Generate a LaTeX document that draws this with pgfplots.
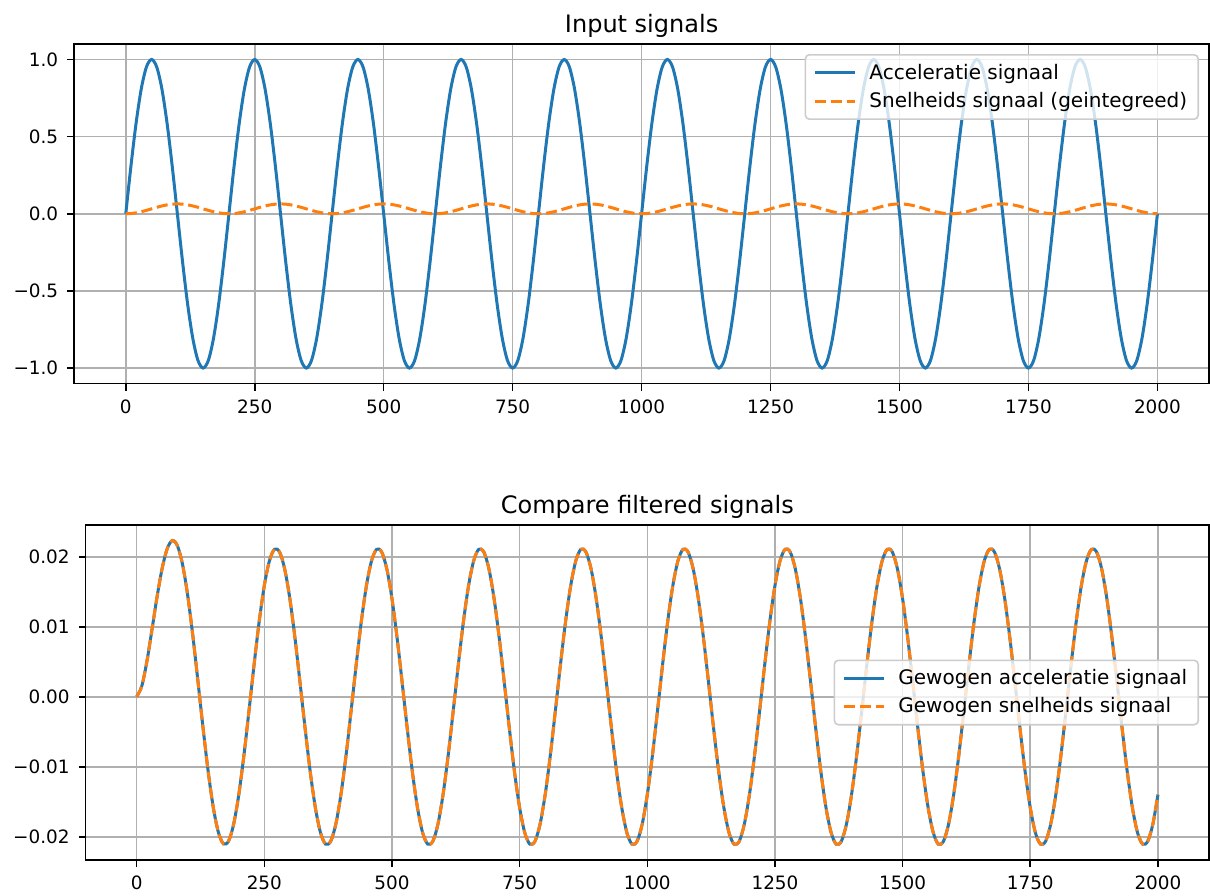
\documentclass[border=0pt]{standalone}
\usepackage{fontspec}
\setmainfont{DejaVu Sans}
\usepackage{pgfplots}
\usepackage{pgfplotstable}
\pgfplotsset{compat=1.18}
\definecolor{C0}{HTML}{1F77B4}
\definecolor{C1}{HTML}{FF7F0E}
\definecolor{gridgray}{HTML}{B0B0B0}

\pgfplotstableread{
x a v
0 0 0
10 0.30902 0.001558
20 0.58779 0.006079
30 0.80902 0.013121
40 0.95106 0.021994
50 1 0.031830
60 0.95106 0.041666
70 0.80902 0.050539
80 0.58779 0.057581
90 0.30902 0.062102
100 0 0.063660
110 -0.30902 0.062102
120 -0.58779 0.057581
130 -0.80902 0.050539
140 -0.95106 0.041666
150 -1 0.031830
160 -0.95106 0.021994
170 -0.80902 0.013121
180 -0.58779 0.006079
190 -0.30902 0.001558
200 0 0
210 0.30902 0.001558
220 0.58779 0.006079
230 0.80902 0.013121
240 0.95106 0.021994
250 1 0.031830
260 0.95106 0.041666
270 0.80902 0.050539
280 0.58779 0.057581
290 0.30902 0.062102
300 0 0.063660
310 -0.30902 0.062102
320 -0.58779 0.057581
330 -0.80902 0.050539
340 -0.95106 0.041666
350 -1 0.031830
360 -0.95106 0.021994
370 -0.80902 0.013121
380 -0.58779 0.006079
390 -0.30902 0.001558
400 0 0
410 0.30902 0.001558
420 0.58779 0.006079
430 0.80902 0.013121
440 0.95106 0.021994
450 1 0.031830
460 0.95106 0.041666
470 0.80902 0.050539
480 0.58779 0.057581
490 0.30902 0.062102
500 0 0.063660
510 -0.30902 0.062102
520 -0.58779 0.057581
530 -0.80902 0.050539
540 -0.95106 0.041666
550 -1 0.031830
560 -0.95106 0.021994
570 -0.80902 0.013121
580 -0.58779 0.006079
590 -0.30902 0.001558
600 0 0
610 0.30902 0.001558
620 0.58779 0.006079
630 0.80902 0.013121
640 0.95106 0.021994
650 1 0.031830
660 0.95106 0.041666
670 0.80902 0.050539
680 0.58779 0.057581
690 0.30902 0.062102
700 0 0.063660
710 -0.30902 0.062102
720 -0.58779 0.057581
730 -0.80902 0.050539
740 -0.95106 0.041666
750 -1 0.031830
760 -0.95106 0.021994
770 -0.80902 0.013121
780 -0.58779 0.006079
790 -0.30902 0.001558
800 0 0
810 0.30902 0.001558
820 0.58779 0.006079
830 0.80902 0.013121
840 0.95106 0.021994
850 1 0.031830
860 0.95106 0.041666
870 0.80902 0.050539
880 0.58779 0.057581
890 0.30902 0.062102
900 0 0.063660
910 -0.30902 0.062102
920 -0.58779 0.057581
930 -0.80902 0.050539
940 -0.95106 0.041666
950 -1 0.031830
960 -0.95106 0.021994
970 -0.80902 0.013121
980 -0.58779 0.006079
990 -0.30902 0.001558
1000 0 0
1010 0.30902 0.001558
1020 0.58779 0.006079
1030 0.80902 0.013121
1040 0.95106 0.021994
1050 1 0.031830
1060 0.95106 0.041666
1070 0.80902 0.050539
1080 0.58779 0.057581
1090 0.30902 0.062102
1100 0 0.063660
1110 -0.30902 0.062102
1120 -0.58779 0.057581
1130 -0.80902 0.050539
1140 -0.95106 0.041666
1150 -1 0.031830
1160 -0.95106 0.021994
1170 -0.80902 0.013121
1180 -0.58779 0.006079
1190 -0.30902 0.001558
1200 0 0
1210 0.30902 0.001558
1220 0.58779 0.006079
1230 0.80902 0.013121
1240 0.95106 0.021994
1250 1 0.031830
1260 0.95106 0.041666
1270 0.80902 0.050539
1280 0.58779 0.057581
1290 0.30902 0.062102
1300 0 0.063660
1310 -0.30902 0.062102
1320 -0.58779 0.057581
1330 -0.80902 0.050539
1340 -0.95106 0.041666
1350 -1 0.031830
1360 -0.95106 0.021994
1370 -0.80902 0.013121
1380 -0.58779 0.006079
1390 -0.30902 0.001558
1400 0 0
1410 0.30902 0.001558
1420 0.58779 0.006079
1430 0.80902 0.013121
1440 0.95106 0.021994
1450 1 0.031830
1460 0.95106 0.041666
1470 0.80902 0.050539
1480 0.58779 0.057581
1490 0.30902 0.062102
1500 0 0.063660
1510 -0.30902 0.062102
1520 -0.58779 0.057581
1530 -0.80902 0.050539
1540 -0.95106 0.041666
1550 -1 0.031830
1560 -0.95106 0.021994
1570 -0.80902 0.013121
1580 -0.58779 0.006079
1590 -0.30902 0.001558
1600 0 0
1610 0.30902 0.001558
1620 0.58779 0.006079
1630 0.80902 0.013121
1640 0.95106 0.021994
1650 1 0.031830
1660 0.95106 0.041666
1670 0.80902 0.050539
1680 0.58779 0.057581
1690 0.30902 0.062102
1700 0 0.063660
1710 -0.30902 0.062102
1720 -0.58779 0.057581
1730 -0.80902 0.050539
1740 -0.95106 0.041666
1750 -1 0.031830
1760 -0.95106 0.021994
1770 -0.80902 0.013121
1780 -0.58779 0.006079
1790 -0.30902 0.001558
1800 0 0
1810 0.30902 0.001558
1820 0.58779 0.006079
1830 0.80902 0.013121
1840 0.95106 0.021994
1850 1 0.031830
1860 0.95106 0.041666
1870 0.80902 0.050539
1880 0.58779 0.057581
1890 0.30902 0.062102
1900 0 0.063660
1910 -0.30902 0.062102
1920 -0.58779 0.057581
1930 -0.80902 0.050539
1940 -0.95106 0.041666
1950 -1 0.031830
1960 -0.95106 0.021994
1970 -0.80902 0.013121
1980 -0.58779 0.006079
1990 -0.30902 0.001558
2000 0 0
}\topdata

\pgfplotstableread{
x w
0 0
10 0.001508
20 0.005030
30 0.009589
40 0.014294
50 0.018367
60 0.021188
70 0.022318
80 0.021538
90 0.018841
100 0.014438
110 0.008719
120 0.002214
130 -0.004458
140 -0.010659
150 -0.015793
160 -0.019364
170 -0.021026
180 -0.020623
190 -0.018193
200 -0.013993
210 -0.008404
220 -0.001991
230 0.004616
240 0.010771
250 0.015872
260 0.019420
270 0.021066
280 0.020651
290 0.018213
300 0.013993
310 0.008404
320 0.001991
330 -0.004616
340 -0.010771
350 -0.015872
360 -0.019420
370 -0.021066
380 -0.020651
390 -0.018213
400 -0.013993
410 -0.008404
420 -0.001991
430 0.004616
440 0.010771
450 0.015872
460 0.019420
470 0.021066
480 0.020651
490 0.018213
500 0.013993
510 0.008404
520 0.001991
530 -0.004616
540 -0.010771
550 -0.015872
560 -0.019420
570 -0.021066
580 -0.020651
590 -0.018213
600 -0.013993
610 -0.008404
620 -0.001991
630 0.004616
640 0.010771
650 0.015872
660 0.019420
670 0.021066
680 0.020651
690 0.018213
700 0.013993
710 0.008404
720 0.001991
730 -0.004616
740 -0.010771
750 -0.015872
760 -0.019420
770 -0.021066
780 -0.020651
790 -0.018213
800 -0.013993
810 -0.008404
820 -0.001991
830 0.004616
840 0.010771
850 0.015872
860 0.019420
870 0.021066
880 0.020651
890 0.018213
900 0.013993
910 0.008404
920 0.001991
930 -0.004616
940 -0.010771
950 -0.015872
960 -0.019420
970 -0.021066
980 -0.020651
990 -0.018213
1000 -0.013993
1010 -0.008404
1020 -0.001991
1030 0.004616
1040 0.010771
1050 0.015872
1060 0.019420
1070 0.021066
1080 0.020651
1090 0.018213
1100 0.013993
1110 0.008404
1120 0.001991
1130 -0.004616
1140 -0.010771
1150 -0.015872
1160 -0.019420
1170 -0.021066
1180 -0.020651
1190 -0.018213
1200 -0.013993
1210 -0.008404
1220 -0.001991
1230 0.004616
1240 0.010771
1250 0.015872
1260 0.019420
1270 0.021066
1280 0.020651
1290 0.018213
1300 0.013993
1310 0.008404
1320 0.001991
1330 -0.004616
1340 -0.010771
1350 -0.015872
1360 -0.019420
1370 -0.021066
1380 -0.020651
1390 -0.018213
1400 -0.013993
1410 -0.008404
1420 -0.001991
1430 0.004616
1440 0.010771
1450 0.015872
1460 0.019420
1470 0.021066
1480 0.020651
1490 0.018213
1500 0.013993
1510 0.008404
1520 0.001991
1530 -0.004616
1540 -0.010771
1550 -0.015872
1560 -0.019420
1570 -0.021066
1580 -0.020651
1590 -0.018213
1600 -0.013993
1610 -0.008404
1620 -0.001991
1630 0.004616
1640 0.010771
1650 0.015872
1660 0.019420
1670 0.021066
1680 0.020651
1690 0.018213
1700 0.013993
1710 0.008404
1720 0.001991
1730 -0.004616
1740 -0.010771
1750 -0.015872
1760 -0.019420
1770 -0.021066
1780 -0.020651
1790 -0.018213
1800 -0.013993
1810 -0.008404
1820 -0.001991
1830 0.004616
1840 0.010771
1850 0.015872
1860 0.019420
1870 0.021066
1880 0.020651
1890 0.018213
1900 0.013993
1910 0.008404
1920 0.001991
1930 -0.004616
1940 -0.010771
1950 -0.015872
1960 -0.019420
1970 -0.021066
1980 -0.020651
1990 -0.018213
2000 -0.013993
}\botdata

\pgfplotsset{
  every axis title/.style={at={(0.5,1)}, anchor=base, yshift=6pt, inner sep=0pt, font=\fontsize{12}{14}\selectfont},
  mplstyle/.style={
    scale only axis,
    anchor=north west,
    xmin=-100, xmax=2100,
    xtick={0,250,500,750,1000,1250,1500,1750,2000},
    xticklabels={0,250,500,750,1000,1250,1500,1750,2000},
    scaled x ticks=false, scaled y ticks=false,
    tick align=outside,
    tick pos=left,
    major tick length=3.5pt,
    every tick/.style={black, line width=0.8pt},
    axis line style={black, line width=0.8pt},
    grid=major,
    major grid style={gridgray, line width=0.8pt},
    ticklabel style={font=\fontsize{9.2}{11}\selectfont, text=black},
    xticklabel style={anchor=north, inner sep=0pt, yshift=-4.3pt},
    yticklabel style={anchor=east, inner sep=0pt, xshift=-4.3pt},
    legend cell align=left,
    legend image code/.code={\draw[#1] (0pt,0pt) -- (20pt,0pt);},
    legend style={draw=black!20, line width=0.8pt, rounded corners=2pt, fill=white, fill opacity=0.8, text opacity=1,
      font=\fontsize{10}{12}\selectfont, inner xsep=4pt, inner ysep=3pt, row sep=2pt,
      nodes={inner sep=1.5pt},
      /tikz/every odd column/.append style={column sep=5pt}},
  }
}

\begin{document}
\begin{tikzpicture}
\useasboundingbox (0,0) rectangle (605pt,-447.5pt);
\begin{axis}[mplstyle,
  at={(37.1pt,-22pt)}, width=567.4pt, height=169.75pt,
  ymin=-1.1, ymax=1.1,
  ytick={-1,-0.5,0,0.5,1},
  yticklabels={−1.0,−0.5,0.0,0.5,1.0},
  title={Input signals},
  legend style={at={(1,1)}, anchor=north east, xshift=-5pt, yshift=-5pt},
]
\addplot[C0, line width=1.5pt, smooth] table[x=x, y=a] {\topdata};
\addlegendentry{Acceleratie signaal}
\addplot[C1, line width=1.5pt, smooth, dash pattern=on 5.55pt off 2.4pt] table[x=x, y=v] {\topdata};
\addlegendentry{Snelheids signaal (geintegreed)}
\end{axis}

\begin{axis}[mplstyle,
  at={(42.8pt,-262.5pt)}, width=561.7pt, height=167.5pt,
  ymin=-0.02333, ymax=0.02453,
  ytick={-0.02,-0.01,0,0.01,0.02},
  yticklabels={−0.02,−0.01,0.00,0.01,0.02},
  title={Compare filtered signals},
  legend style={at={(1,0.5)}, anchor=east, xshift=-5pt},
]
\addplot[C0, line width=1.5pt, smooth] table[x=x, y=w] {\botdata};
\addlegendentry{Gewogen acceleratie signaal}
\addplot[C1, line width=1.5pt, smooth, dash pattern=on 5.55pt off 2.4pt] table[x=x, y=w] {\botdata};
\addlegendentry{Gewogen snelheids signaal}
\end{axis}
\end{tikzpicture}
\end{document}
